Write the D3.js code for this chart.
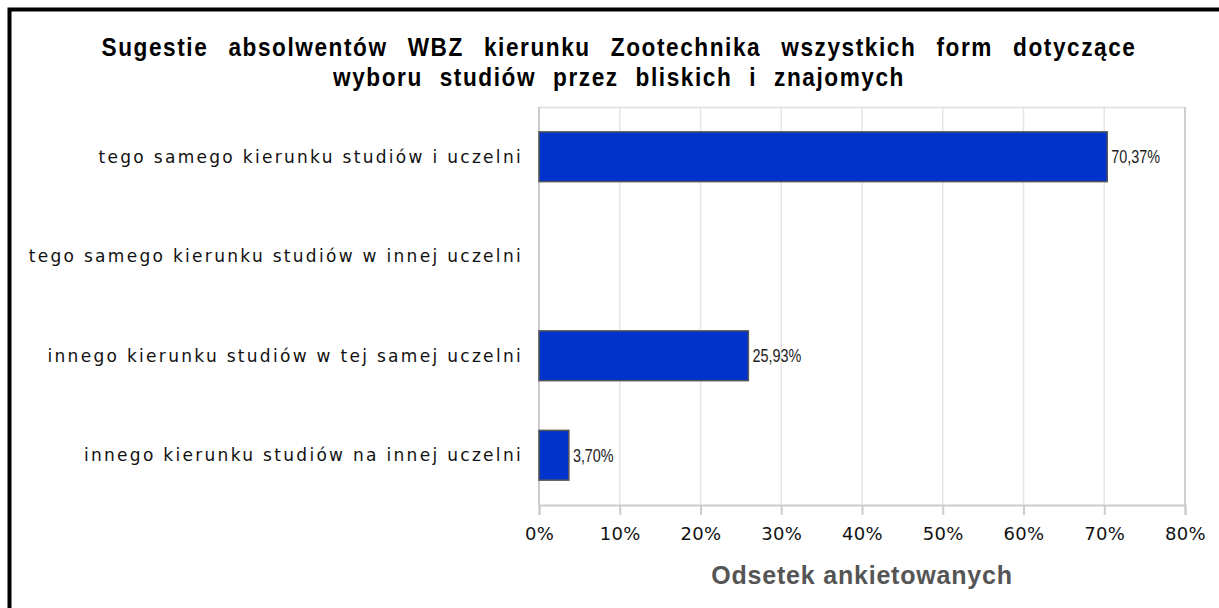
<!DOCTYPE html>
<html><head><meta charset="utf-8">
<script src="https://cdn.jsdelivr.net/npm/d3@7"></script>
<style>body{margin:0;background:#fff}svg{display:block}</style>
</head><body>
<svg id="c" width="1219" height="608"></svg>
<script>
const categories = [
  "tego samego kierunku studiów i uczelni",
  "tego samego kierunku studiów w innej uczelni",
  "innego kierunku studiów w tej samej uczelni",
  "innego kierunku studiów na innej uczelni"
];
const values = [70.37, 0, 25.93, 3.70];
const valueLabels = ["70,37%", null, "25,93%", "3,70%"];
const xTicks = [0, 10, 20, 30, 40, 50, 60, 70, 80];
const titleLines = [
  "Sugestie absolwentów WBZ kierunku Zootechnika wszystkich form dotyczące",
  "wyboru studiów przez bliskich i znajomych"
];
const xAxisTitle = "Odsetek ankietowanych";

const svg = d3.select("#c");
const m = {left: 539, right: 1185, top: 107, bottom: 505};

// outer frame
svg.append("rect").attr("x", 9.5).attr("y", 9.5).attr("width", 1240).attr("height", 640)
  .attr("fill", "none").attr("stroke", "#000").attr("stroke-width", 4);

const x = d3.scaleLinear().domain([0, 80]).range([m.left, m.right]);
const y = d3.scaleBand().domain(categories).range([m.top, m.bottom]).paddingInner(0.5).paddingOuter(0.25);

// grid
svg.append("g").selectAll("line").data(xTicks.slice(1, -1)).join("line")
  .attr("x1", d => x(d)).attr("x2", d => x(d)).attr("y1", m.top).attr("y2", m.bottom)
  .attr("stroke", "#e6e6e6").attr("stroke-width", 1.5);
svg.append("line").attr("x1", m.left).attr("x2", m.right).attr("y1", m.top + 0.5).attr("y2", m.top + 0.5)
  .attr("stroke", "#dddddd").attr("stroke-width", 1.5);
svg.append("line").attr("x1", m.right).attr("x2", m.right).attr("y1", m.top).attr("y2", m.bottom)
  .attr("stroke", "#cfcfcf").attr("stroke-width", 2);

// x axis
const xAxis = d3.axisBottom(x).tickValues(xTicks).tickFormat(d => d + "%").tickSize(10).tickPadding(12);
const gx = svg.append("g").attr("transform", `translate(0,${m.bottom})`).call(xAxis);
gx.select(".domain").attr("stroke", "#cccccc").attr("stroke-width", 2);
gx.selectAll(".tick line").attr("stroke", "#cccccc").attr("stroke-width", 2);
gx.selectAll(".tick text").attr("fill", "#111").attr("font-family", "DejaVu Sans").attr("font-size", 18)
  .attr("letter-spacing", 0.3);

// y axis line
svg.append("line").attr("x1", m.left).attr("x2", m.left).attr("y1", m.top).attr("y2", m.bottom)
  .attr("stroke", "#cccccc").attr("stroke-width", 2);

// category labels
svg.append("g").selectAll("text").data(categories).join("text")
  .attr("x", 523).attr("y", d => y(d) + y.bandwidth() / 2)
  .attr("dy", "0.35em").attr("text-anchor", "end")
  .attr("font-family", "DejaVu Sans").attr("font-size", 17).attr("letter-spacing", 2.3)
  .attr("fill", "#111").text(d => d);

// bars
const rows = categories.map((c, i) => ({c, v: values[i], l: valueLabels[i]}));
svg.append("g").selectAll("rect").data(rows.filter(d => d.v > 0))
  .join("rect")
  .attr("x", x(0)).attr("y", d => y(d.c)).attr("width", d => x(d.v) - x(0)).attr("height", y.bandwidth())
  .attr("fill", "#0033cc").attr("stroke", "#555").attr("stroke-width", 1.5);

// value labels (condensed)
svg.append("g").selectAll("text").data(rows.filter(d => d.l))
  .join("text")
  .attr("transform", d => `translate(${x(d.v) + 4},${y(d.c) + y.bandwidth() / 2}) scale(0.8,1)`)
  .attr("dy", "0.36em").attr("font-family", "Liberation Sans").attr("font-size", 18)
  .attr("fill", "#222").text(d => d.l);

// title (condensed bold)
const k = 0.87;
const titleTargets = [1035, 572];
titleLines.forEach((t, i) => {
  const e = svg.append("text").attr("transform", `translate(619,${56 + i * 30}) scale(${k},1)`)
    .attr("text-anchor", "middle")
    .attr("font-family", "Liberation Sans").attr("font-weight", "bold")
    .attr("font-size", 26).attr("letter-spacing", 1.8).attr("fill", "#000").text(t);
  const w0 = e.node().getComputedTextLength();
  const ns = t.split(" ").length - 1;
  e.attr("word-spacing", Math.max(0, (titleTargets[i] / k - w0) / ns));
});

// axis title
svg.append("text").attr("x", (m.left + m.right) / 2).attr("y", 584).attr("text-anchor", "middle")
  .attr("font-family", "Liberation Sans").attr("font-weight", "bold")
  .attr("font-size", 25).attr("letter-spacing", 0.8).attr("fill", "#555").text(xAxisTitle);
</script>
</body></html>
